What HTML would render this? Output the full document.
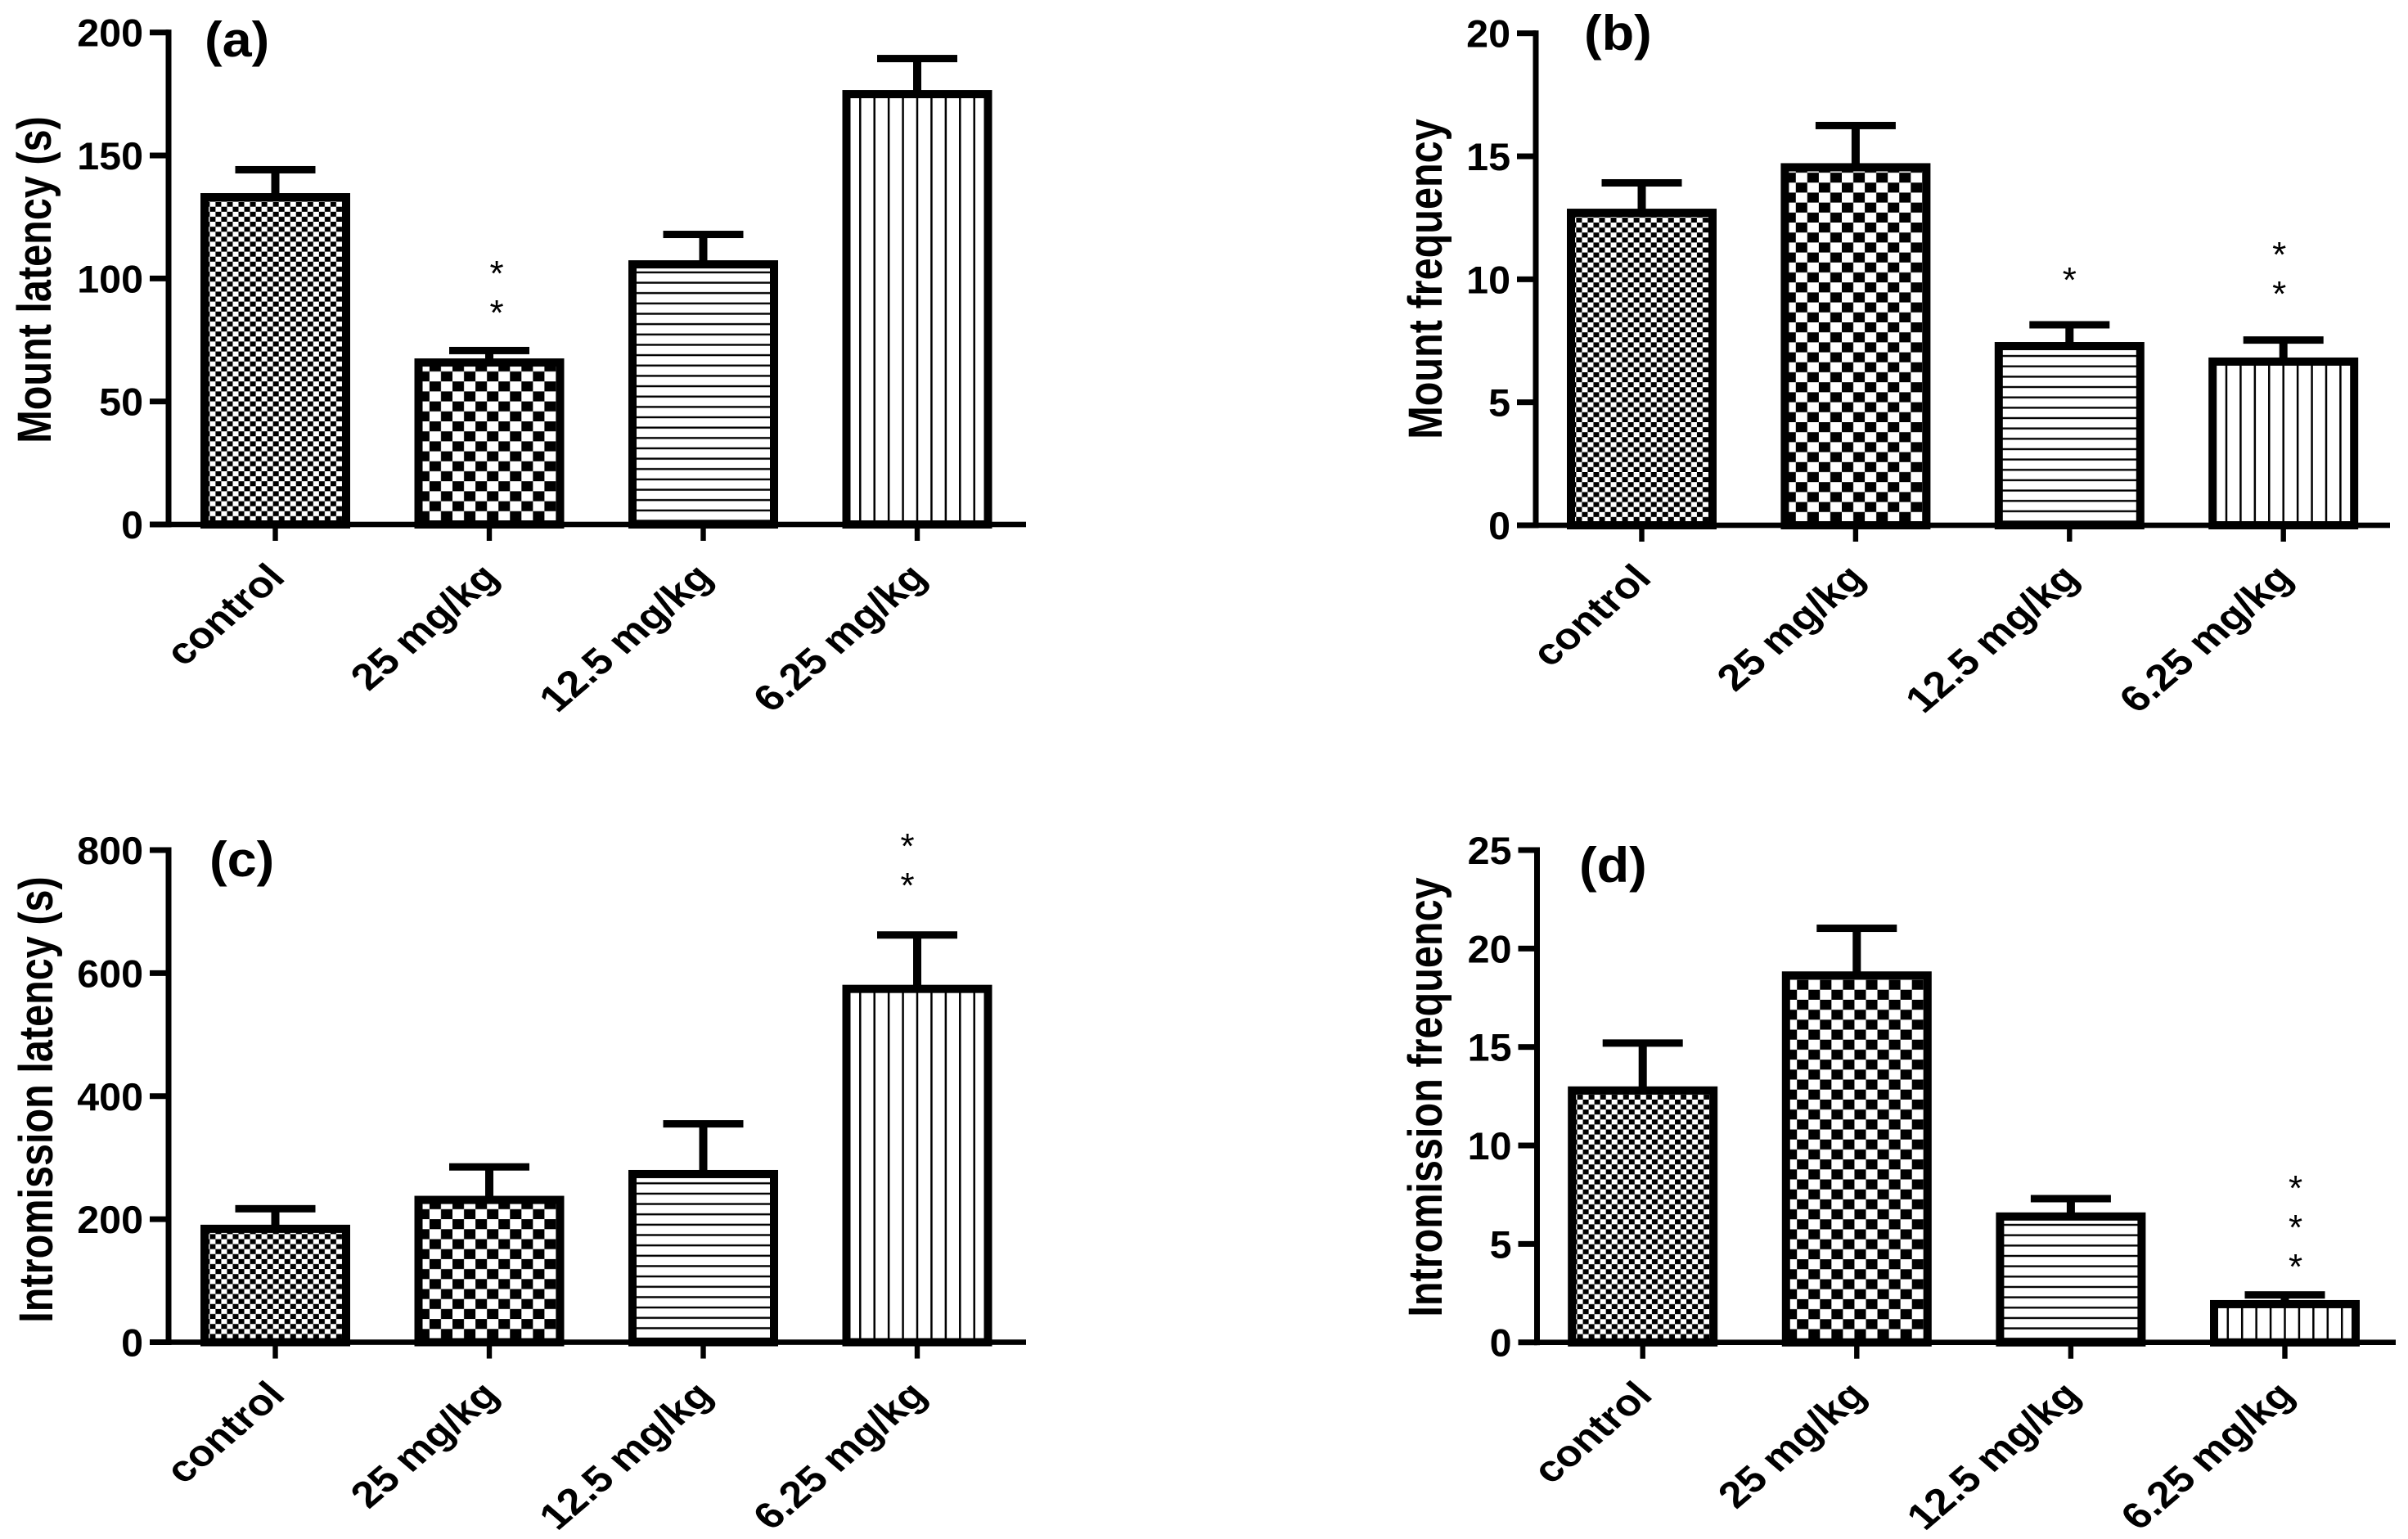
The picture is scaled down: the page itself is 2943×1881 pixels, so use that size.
<!DOCTYPE html>
<html lang="en">
<head>
<meta charset="utf-8">
<title>Mount and intromission behaviour by dose</title>
<style>
html,body{margin:0;padding:0;background:#fff;}
svg{display:block;}
text{font-family:"Liberation Sans",Arial,sans-serif;fill:#000;}
</style>
</head>
<body>
<svg id="figure" xmlns="http://www.w3.org/2000/svg" width="2943" height="1881" viewBox="0 0 2943 1881">
<rect width="2943" height="1881" fill="#fff"/>
<defs id="defs"></defs>
</svg>
<script>
const categories = ['control', '25 mg/kg', '12.5 mg/kg', '6.25 mg/kg'];

const aTicks = [0, 50, 100, 150, 200];
const aMeans = [134.7, 67.5, 107.4, 176.6];
const aErrors = [9.5, 3.2, 10.5, 12.8];
const aStars = [[], [104.1, 88.1], [], []];

const bTicks = [0, 5, 10, 15, 20];
const bMeans = [12.87, 14.72, 7.45, 6.82];
const bErrors = [1.05, 1.53, 0.7, 0.71];
const bStars = [[], [], [10.18], [11.21, 9.61]];

const cTicks = [0, 200, 400, 600, 800];
const cMeans = [191, 238, 280, 581];
const cErrors = [26, 47, 75, 81];
const cStars = [[], [], [], [814.5, 750.7]];

const dTicks = [0, 5, 10, 15, 20, 25];
const dMeans = [13.0, 18.84, 6.6, 2.15];
const dErrors = [2.2, 2.19, 0.7, 0.26];
const dStars = [[], [], [], [8.08, 6.09, 4.1]];

const NS = 'http://www.w3.org/2000/svg';
const svg = document.getElementById('figure');
const defs = document.getElementById('defs');

function make(tag, attrs, parent) {
  const el = document.createElementNS(NS, tag);
  for (const k in attrs) el.setAttribute(k, attrs[k]);
  if (parent) parent.appendChild(el);
  return el;
}

function addPattern(id, x, y, w, h, cells) {
  const p = make('pattern', {id: id, patternUnits: 'userSpaceOnUse', x: x, y: y, width: w, height: h}, defs);
  make('rect', {x: 0, y: 0, width: w, height: h, fill: '#fff'}, p);
  cells.forEach(c => make('rect', {x: c[0], y: c[1], width: c[2], height: c[3], fill: '#000'}, p));
}

function barFill(id, kind, c, base) {
  const oy = base - 4;
  const ox = c - 73.1;
  if (kind === 0) {
    addPattern(id, ox, oy, 14.05, 12.2, [[0, 0, 7.02, 6.1], [7.02, 6.1, 7.03, 6.1]]);
  } else if (kind === 1) {
    addPattern(id, ox, oy, 28.1, 24.4, [[0, 0, 14.05, 12.2], [14.05, 12.2, 14.05, 12.2]]);
  } else if (kind === 2) {
    addPattern(id, c, base - 4.5 - 6.325, 20, 12.65, [[0, 5.125, 20, 2.4]]);
  } else {
    addPattern(id, c - 8.715, base, 17.43, 20, [[7.465, 0, 2.5, 20]]);
  }
  return 'url(#' + id + ')';
}

function drawPanel(cfg) {
  const key = cfg.key;
  const g = make('g', {}, svg);
  
  

  const yScale = v => cfg.base + (cfg.top - cfg.base) * v / cfg.max;
  const xScale = i => cfg.first + cfg.step * i;

  // bars first so that axes sit on top
  categories.forEach((cat, i) => {
    const c = xScale(i);
    const yTop = yScale(cfg.means[i]);
    const fill = barFill('fill-' + key + '-' + i, i, c, cfg.base);
    const bar = make('rect', {x: c - 86.5, y: yTop + 5, width: 173, height: cfg.base - yTop - 5, fill: fill, stroke: '#000', 'stroke-width': 10}, g);
    
    

    const yErr = yScale(cfg.means[i] + cfg.errors[i]);
    const stem = make('rect', {x: c - 5, y: yErr, width: 10, height: yTop - yErr + 2, fill: '#000'}, g);
    
    
    const cap = make('rect', {x: c - 49, y: yErr - 4.5, width: 98, height: 9, fill: '#000'}, g);
    
    

    const tick = make('rect', {x: c - 3.2, y: cfg.base, width: 6.4, height: 20, fill: '#000'}, g);
    
    

    const label = make('text', {transform: 'translate(' + (c + 14) + ',' + (cfg.base + 67) + ') scale(1.17,1) rotate(-45)', 'font-size': 45, 'font-weight': 700, 'text-anchor': 'end'}, g);
    label.textContent = cat;
    
    

    cfg.stars[i].forEach((s, k) => {
      const star = make('text', {x: c + cfg.starDx[i], y: yScale(s) + 21, 'font-size': 44, 'text-anchor': 'middle'}, g);
      star.textContent = '*';
      
      
    });
  });

  const yAxis = make('rect', {x: cfg.axisX - 3.5, y: yScale(cfg.max) - 3.5, width: 7, height: cfg.base - yScale(cfg.max) + 7, fill: '#000'}, g);
  
  

  const xAxis = make('rect', {x: cfg.axisX - 23, y: cfg.base - 3.3, width: cfg.xEnd - cfg.axisX + 23, height: 6.6, fill: '#000'}, g);
  
  

  cfg.ticks.forEach(t => {
    const y = yScale(t);
    const tick = make('rect', {x: cfg.axisX - 23, y: y - 3.5, width: 23, height: 7, fill: '#000'}, g);
    
    
    const lab = make('text', {transform: 'translate(' + (cfg.axisX - 31) + ',' + (y + 17) + ') scale(1.03,1)', 'font-size': 47, 'font-weight': 700, 'text-anchor': 'end'}, g);
    lab.textContent = String(t);
    
    
  });

  const title = make('text', {transform: 'translate(' + cfg.titleX + ',' + cfg.titleY + ') scale(1.2,1) rotate(-90)', 'font-size': 48.6, 'font-weight': 700, 'text-anchor': 'middle'}, g);
  title.textContent = cfg.title;
  
  

  const tag = make('text', {transform: 'translate(' + cfg.tagX + ',' + cfg.tagY + ') scale(1.08,1)', 'font-size': 60, 'font-weight': 700}, g);
  tag.textContent = '(' + key + ')';
  
  
}

drawPanel({key: 'a', title: 'Mount latency (s)', ticks: aTicks, means: aMeans, errors: aErrors, stars: aStars, max: 200,
  axisX: 206, base: 641, top: 39.7, first: 336.5, step: 261.5, xEnd: 1254,
  titleX: 62, titleY: 342, tagX: 250, tagY: 69, starDx: [0, 9, 0, 0]});
drawPanel({key: 'b', title: 'Mount frequency', ticks: bTicks, means: bMeans, errors: bErrors, stars: bStars, max: 20,
  axisX: 1877, base: 642, top: 40.7, first: 2006.5, step: 261.4, xEnd: 2921,
  titleX: 1762, titleY: 341, tagX: 1936, tagY: 61, starDx: [0, 0, 0, -5]});
drawPanel({key: 'c', title: 'Intromission latency (s)', ticks: cTicks, means: cMeans, errors: cErrors, stars: cStars, max: 800,
  axisX: 206, base: 1640.5, top: 1039, first: 336.5, step: 261.5, xEnd: 1254,
  titleX: 64, titleY: 1344, tagX: 256, tagY: 1071, starDx: [0, 0, 0, -12]});
drawPanel({key: 'd', title: 'Intromission frequency', ticks: dTicks, means: dMeans, errors: dErrors, stars: dStars, max: 25,
  axisX: 1878.5, base: 1640.7, top: 1039, first: 2007.7, step: 261.6, xEnd: 2928,
  titleX: 1762, titleY: 1341, tagX: 1930, tagY: 1078, starDx: [0, 0, 0, 13]});
</script>
</body>
</html>
